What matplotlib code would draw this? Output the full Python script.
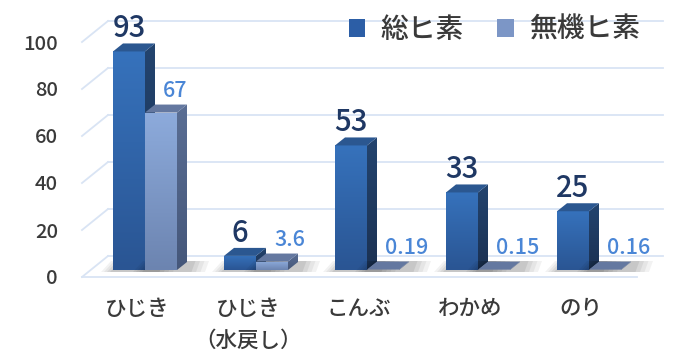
import matplotlib
matplotlib.use('Agg')
import matplotlib.pyplot as plt
import numpy as np
from matplotlib.patches import Polygon, Patch
from matplotlib.colors import LinearSegmentedColormap

# ---------------- data ----------------
categories = ['ひじき', 'ひじき\n（水戻し）', 'こんぶ', 'わかめ', 'のり']
total_as = [93, 6, 53, 33, 25]
inorganic_as = [67, 3.6, 0.19, 0.15, 0.16]
total_labels = ['93', '6', '53', '33', '25']
inorganic_labels = ['67', '3.6', '0.19', '0.15', '0.16']
yticks = [0, 20, 40, 60, 80, 100]
series_names = ['総ヒ素', '無機ヒ素']

plt.rcParams['font.family'] = ['Noto Sans CJK JP', 'DejaVu Sans']

W, H = 696, 363
fig = plt.figure(figsize=(W / 100, H / 100), dpi=100)
ax = fig.add_axes([0, 0, 1, 1])
ax.axis('off')

# scale: data units per pixel
px_x = 1 / 111.0
px_y = 1 / 2.35
x0_px, base_px = 145, 270

bar_w = 32 * px_x
ddx, ddy = 10 * px_x, 8 * px_y          # bar depth
front_y = -7 * px_y                     # floor front edge (relative)
back_y = 14 * px_y                      # back wall (relative)
x_fl = (82 - x0_px) * px_x
x_bl = (108 - x0_px) * px_x
x_br = (663 - x0_px) * px_x
x_fr = (637 - x0_px) * px_x

grid_c = '#D9E4F4'
txt_c = '#3A3A3A'
fw = 'medium'

# gridlines on back wall + side wall diagonals
for t in yticks:
    ax.plot([x_bl, x_br], [t + back_y, t + back_y], color=grid_c, lw=1.3, zorder=1)
    ax.plot([x_fl, x_bl], [t + front_y, t + back_y], color=grid_c, lw=1.3, zorder=1)
ax.plot([x_fl, x_fr], [front_y, front_y], color=grid_c, lw=1.3, zorder=1)

# tick labels
for t in yticks:
    ax.text((58 - x0_px) * px_x, t + front_y - 7.5 * px_y, str(t), ha='right',
            va='baseline', fontsize=14.5, color=txt_c, fontweight=fw)

cm_tot = LinearSegmentedColormap.from_list('tot', ['#2A5593', '#3672BC'])
cm_ino = LinearSegmentedColormap.from_list('ino', ['#6C84B0', '#8DABDC'])
cm_tot_side = LinearSegmentedColormap.from_list('tots', ['#1B3152', '#23446F'])
cm_ino_side = LinearSegmentedColormap.from_list('inos', ['#45577A', '#5A6E94'])
styles = [
    dict(cmap=cm_tot, side=cm_tot_side, top='#2B5790', lab='#1F3864', fs=21),
    dict(cmap=cm_ino, side=cm_ino_side, top='#6478A0', lab='#4A86D6', fs=15.5),
]

grad = np.linspace(0, 1, 256).reshape(-1, 1)


def draw_bar(x0, h, st, z):
    x1 = x0 + bar_w
    # floor shadow
    for k, a in zip(range(4), [0.05, 0.05, 0.06, 0.07]):
        e = (4 - k) * 3
        sh = Polygon([(x0 - e * px_x, -2 * px_y), (x1 + ddx + e * 1.5 * px_x, -2 * px_y),
                      (x1 + ddx + e * 1.5 * px_x + 4 * px_x, ddy + 1 * px_y),
                      (x0 + ddx - e * px_x, ddy + 1 * px_y)],
                     closed=True, facecolor='black', edgecolor='none', alpha=a, zorder=z - 0.5)
        ax.add_patch(sh)
    front = Polygon([(x0, 0), (x1, 0), (x1, h), (x0, h)], closed=True,
                    facecolor='none', edgecolor='none', zorder=z)
    ax.add_patch(front)
    im = ax.imshow(grad, extent=[x0, x1, 0, h], origin='lower', aspect='auto',
                   cmap=st['cmap'], zorder=z, interpolation='bilinear')
    im.set_clip_path(front)
    side = Polygon([(x1, 0), (x1, h), (x1 + ddx, h + ddy), (x1 + ddx, ddy)], closed=True,
                   facecolor='none', edgecolor='none', zorder=z)
    ax.add_patch(side)
    ims = ax.imshow(grad, extent=[x1, x1 + ddx, 0, h + ddy], origin='lower', aspect='auto',
                    cmap=st['side'], zorder=z, interpolation='bilinear')
    ims.set_clip_path(side)
    top = Polygon([(x0, h), (x1, h), (x1 + ddx, h + ddy), (x0 + ddx, h + ddy)], closed=True,
                  facecolor=st['top'], edgecolor='none', zorder=z)
    ax.add_patch(top)


for i in range(len(categories)):
    xa = i - bar_w
    xb = i
    draw_bar(xa, total_as[i], styles[0], 3 + i * 2)
    draw_bar(xb, inorganic_as[i], styles[1], 4 + i * 2)
    ax.text(xa + bar_w / 2, total_as[i] + ddy + 6 * px_y, total_labels[i], ha='center',
            va='baseline', fontsize=styles[0]['fs'], color=styles[0]['lab'], zorder=20,
            fontweight=fw)
    ax.text(xb + bar_w / 2 + 2 * px_x, inorganic_as[i] + ddy + 8 * px_y, inorganic_labels[i],
            ha='left', va='baseline', fontsize=styles[1]['fs'], color=styles[1]['lab'], zorder=20,
            fontweight=fw)
    ax.text(i - 8 * px_x, (base_px - 298) * px_y, categories[i], ha='center', va='top',
            fontsize=15.5, color=txt_c, linespacing=1.6, fontweight=fw)

handles = [Patch(facecolor='#2C5EA6', edgecolor='none'),
           Patch(facecolor='#7C96C6', edgecolor='none')]
leg = ax.legend(handles, series_names, loc='center right', ncol=2, frameon=False,
                bbox_to_anchor=(640 / W, 1 - 29 / H), bbox_transform=fig.transFigure,
                handlelength=0.6, handleheight=0.6, handletextpad=0.55,
                columnspacing=1.2, labelcolor=txt_c, borderaxespad=0, borderpad=0,
                prop=dict(size=20, weight=fw))
leg.set_zorder(30)

ax.set_xlim(-x0_px * px_x, (W - x0_px) * px_x)
ax.set_ylim((base_px - H) * px_y, base_px * px_y)

fig.savefig('out.png', dpi=100)
